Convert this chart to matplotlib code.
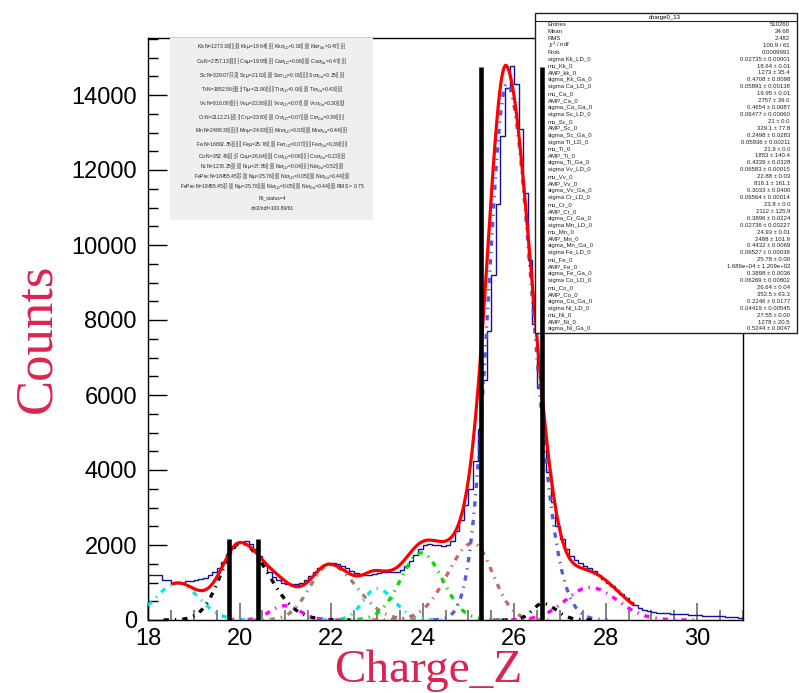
import matplotlib
matplotlib.use("Agg")
import matplotlib.pyplot as plt
import numpy as np
from matplotlib.patches import Rectangle
from matplotlib.ticker import MultipleLocator

W, H = 799, 693

# histogram charge0_13 (0.1 wide bins starting at 18.0)
bin_lo = 18.0
bin_width = 0.1
counts = [
    1200, 1200, 1200, 1070, 1070, 1000, 990, 990, 1040, 1050,
    1080, 1100, 1120, 1190, 1280, 1400, 1550, 1760, 1930, 2050,
    2080, 2120, 2040, 1900, 1700, 1470, 1290, 1150, 1060, 990,
    960, 950, 950, 990, 1060, 1170, 1290, 1400, 1470, 1510,
    1520, 1490, 1440, 1380, 1320, 1250, 1220, 1200, 1210, 1230,
    1260, 1270, 1280, 1290, 1290, 1340, 1440, 1580, 1740, 1900,
    2010, 2030, 2010, 2000, 1980, 2000, 2120, 2380, 2680, 3060,
    3500, 4250, 5100, 6400, 7700, 9200, 11100, 12900, 14200, 14780,
    14300, 13100, 11400, 9600, 7900, 6200, 4900, 3950, 3150, 2500,
    2150, 1900, 1720, 1600, 1520, 1450, 1380, 1300, 1200, 1100,
    1000, 900, 800, 690, 590, 490, 400, 330, 280, 240,
    215, 200, 190, 180, 170, 165, 160, 150, 140, 135,
    130, 120, 115, 110, 100, 95, 90, 85, 75, 65,
]

# fit components (peak position, height, left/right widths as seen on the plot)
comp_names = ["Kk", "Ca", "Sc", "Ti", "Vv", "Cr", "Mn", "Fe", "Co", "Ni"]
comp_mu = [18.64, 20.02, 20.97, 21.97, 23.0, 23.97, 25.1, 25.84, 26.62, 27.65]
comp_h = [980, 2050, 380, 1470, 840, 1790, 2050, 14300, 440, 870]
comp_sl = [0.47, 0.42, 0.30, 0.43, 0.30, 0.45, 0.55, 0.40, 0.22, 0.53]
comp_sr = [0.47, 0.60, 0.35, 0.58, 0.38, 0.46, 0.43, 0.55, 0.30, 0.60]
comp_colors = ["#00e8f0", "#000000", "#ff00ff", "#a08070", "#00e8f0",
               "#00e000", "#cd6464", "#5858e0", "#000000", "#ff00ff"]
# extra tail included in the total fit only
tail_mu, tail_h, tail_sl, tail_sr = 27.5, 380, 0.5, 0.85
fit_range = (18.55, 28.6)

# cut lines
cut_x = [19.76, 20.40, 25.27, 26.60]
cut_top = [2160, 2160, 14760, 14760]

stats_rows = [
    ("Entries", "510260"), ("Mean", "24.68"), ("RMS", "2.482"),
    (r"$\chi^2$ / ndf", "100.9 / 61"), ("Prob", "0.0009991"),
    ("sigma Kk_LD_0", "0.02735 ± 0.00001"), ("mu_Kk_0", "18.64 ± 0.01"),
    ("AMP_kk_0", "1273 ± 35.4"), ("sigma_Kk_Ga_0", "0.4708 ± 0.0098"),
    ("sigma Ca_LD_0", "0.05891 ± 0.00138"), ("mu_Ca_0", "19.95 ± 0.01"),
    ("AMP_Ca_0", "2757 ± 39.0"), ("sigma_Ca_Ga_0", "0.4654 ± 0.0087"),
    ("sigma Sc_LD_0", "0.06477 ± 0.00060"), ("mu_Sc_0", "21 ± 0.0"),
    ("AMP_Sc_0", "329.1 ± 77.8"), ("sigma_Sc_Ga_0", "0.2498 ± 0.0283"),
    ("sigma Ti_LD_0", "0.05936 ± 0.00211"), ("mu_Ti_0", "21.9 ± 0.0"),
    ("AMP_Ti_0", "1853 ± 140.4"), ("sigma_Ti_Ga_0", "0.4339 ± 0.0328"),
    ("sigma Vv_LD_0", "0.06583 ± 0.00015"), ("mu_Vv_0", "22.88 ± 0.03"),
    ("AMP_Vv_0", "816.1 ± 161.1"), ("sigma_Vv_Ga_0", "0.3033 ± 0.0400"),
    ("sigma Cr_LD_0", "0.06564 ± 0.00014"), ("mu_Cr_0", "23.8 ± 0.0"),
    ("AMP_Cr_0", "2112 ± 125.9"), ("sigma_Cr_Ga_0", "0.3896 ± 0.0224"),
    ("sigma Mn_LD_0", "0.02736 ± 0.00227"), ("mu_Mn_0", "24.93 ± 0.01"),
    ("AMP_Mn_0", "2488 ± 101.9"), ("sigma_Mn_Ga_0", "0.4432 ± 0.0069"),
    ("sigma Fe_LD_0", "0.06527 ± 0.00038"), ("mu_Fe_0", "25.78 ± 0.00"),
    ("AMP_Fe_0", "1.686e+04 ± 1.209e+02"), ("sigma_Fe_Ga_0", "0.3898 ± 0.0036"),
    ("sigma Co_LD_0", "0.06269 ± 0.00802"), ("mu_Co_0", "26.64 ± 0.04"),
    ("AMP_Co_0", "352.5 ± 63.3"), ("sigma_Co_Ga_0", "0.2246 ± 0.0177"),
    ("sigma Ni_LD_0", "0.04419 ± 0.00545"), ("mu_Ni_0", "27.55 ± 0.00"),
    ("AMP_Ni_0", "1278 ± 20.5"), ("sigma_Ni_Ga_0", "0.5244 ± 0.0047"),
]

fit_lines = [
    r"Kk:N=1273.38$^{35.39}_{35.39}$ Kk$\mu$=18.64$^{0.01}_{0.01}$ Kk$\sigma_{LD}$=0.03$^{0.00}_{0.00}$ Kk$\sigma_{Ga}$=0.47$^{0.01}_{0.01}$",
    r"Ca:N=2757.13$^{39.01}_{39.01}$ Ca$\mu$=19.95$^{0.01}_{0.01}$ Ca$\sigma_{LD}$=0.06$^{0.00}_{0.00}$ Ca$\sigma_{Ga}$=0.47$^{0.01}_{0.01}$",
    r"Sc:N=329.07$^{77.78}_{77.78}$ Sc$\mu$=21.00$^{0.00}_{0.00}$ Sc$\sigma_{LD}$=0.06$^{0.00}_{0.00}$ Sc$\sigma_{Ga}$=0.25$^{0.03}_{0.03}$",
    r"Ti:N=1852.56$^{140.4}_{140.4}$ Ti$\mu$=21.90$^{0.00}_{0.00}$ Ti$\sigma_{LD}$=0.06$^{0.00}_{0.00}$ Ti$\sigma_{Ga}$=0.43$^{0.03}_{0.03}$",
    r"Vv:N=816.08$^{161.1}_{161.1}$ Vv$\mu$=22.88$^{0.03}_{0.03}$ Vv$\sigma_{LD}$=0.07$^{0.00}_{0.00}$ Vv$\sigma_{Ga}$=0.30$^{0.04}_{0.04}$",
    r"Cr:N=2112.21$^{125.9}_{125.9}$ Cr$\mu$=23.80$^{0.00}_{0.00}$ Cr$\sigma_{LD}$=0.07$^{0.00}_{0.00}$ Cr$\sigma_{Ga}$=0.39$^{0.02}_{0.02}$",
    r"Mn:N=2488.38$^{101.9}_{101.9}$ Mn$\mu$=24.93$^{0.01}_{0.01}$ Mn$\sigma_{LD}$=0.03$^{0.00}_{0.00}$ Mn$\sigma_{Ga}$=0.44$^{0.01}_{0.01}$",
    r"Fe:N=16862.35$^{120.9}_{120.9}$ Fe$\mu$=25.78$^{0.00}_{0.00}$ Fe$\sigma_{LD}$=0.07$^{0.00}_{0.00}$ Fe$\sigma_{Ga}$=0.39$^{0.00}_{0.00}$",
    r"Co:N=352.46$^{63.27}_{63.27}$ Co$\mu$=26.64$^{0.04}_{0.04}$ Co$\sigma_{LD}$=0.06$^{0.01}_{0.01}$ Co$\sigma_{Ga}$=0.22$^{0.02}_{0.02}$",
    r"Ni:N=1278.25$^{20.50}_{20.50}$ Ni$\mu$=27.55$^{0.00}_{0.00}$ Ni$\sigma_{LD}$=0.04$^{0.01}_{0.01}$ Ni$\sigma_{Ga}$=0.52$^{0.00}_{0.00}$",
    r"FePre:N=18455.45$^{97.56}_{97.56}$ Ni$\mu$=25.76$^{0.00}_{0.00}$ Ni$\sigma_{LD}$=0.05$^{0.00}_{0.00}$ Ni$\sigma_{Ga}$=0.44$^{0.00}_{0.00}$",
    r"FePre:N=18455.45$^{97.56}_{97.56}$ Ni$\mu$=25.76$^{0.00}_{0.00}$ Ni$\sigma_{LD}$=0.05$^{0.00}_{0.00}$ Ni$\sigma_{Ga}$=0.44$^{0.00}_{0.00}$ RMS = 0.75",
    "Fit_status=4",
    "chi2/ndf=100.89/61",
]
fit_line_y = [47, 62, 76, 90, 104, 118, 131, 145, 157, 167, 177, 187, 198, 208]


def fx(px):
    return px / W


def fy(py):
    return 1 - py / H


def asym_gauss(x, mu, h, sl, sr):
    s = np.where(x < mu, sl, sr)
    return h * np.exp(-0.5 * ((x - mu) / s) ** 2)


plt.rcParams["font.family"] = ["Liberation Sans", "DejaVu Sans"]
fig = plt.figure(figsize=(W / 100, H / 100), dpi=100)
ax = fig.add_axes([fx(148), fy(620), fx(743) - fx(148), fy(38) - fy(620)])

edges = bin_lo + bin_width * np.arange(len(counts) + 1)
ax.stairs(counts, edges, color="#10109c", linewidth=1.0, zorder=2)

# components
for mu, h, sl, sr, c in zip(comp_mu, comp_h, comp_sl, comp_sr, comp_colors):
    xs = np.linspace(max(18, mu - 4 * sl), min(31, mu + 4 * sr), 300)
    ax.plot(xs, asym_gauss(xs, mu, h, sl, sr), color=c, lw=2.4,
            ls=(0, (1.6, 1.8, 0.4, 1.8)), zorder=3)

# total fit
xf = np.linspace(fit_range[0], fit_range[1], 800)
total = np.zeros_like(xf)
for mu, h, sl, sr in zip(comp_mu, comp_h, comp_sl, comp_sr):
    total += asym_gauss(xf, mu, h, sl, sr)
total += asym_gauss(xf, tail_mu, tail_h, tail_sl, tail_sr)
ax.plot(xf, total, color="#ff0000", lw=2.3, zorder=4)

ax.set_xlim(18, 31)
ax.set_ylim(0, 15520)
ax.xaxis.set_major_locator(MultipleLocator(2))
ax.xaxis.set_minor_locator(MultipleLocator(0.5))
ax.yaxis.set_major_locator(MultipleLocator(2000))
ax.yaxis.set_minor_locator(MultipleLocator(500))
ax.tick_params(axis="x", which="major", direction="in", length=12, width=1.3,
               color="#777777", labelsize=17, pad=6)
ax.tick_params(axis="x", which="minor", direction="in", length=7, width=1.3,
               color="#777777")
ax.tick_params(axis="y", which="major", direction="in", length=14, width=1,
               labelsize=17, pad=8)
ax.tick_params(axis="y", which="minor", direction="in", length=7, width=1)
for sp in ax.spines.values():
    sp.set_linewidth(1.0)

serif = ["Liberation Serif", "DejaVu Serif"]
fig.text(fx(37), fy(338), "Counts", rotation=90, ha="center", va="center",
         family=serif, fontsize=38, color="#dc2450")
fig.text(fx(428), fy(671), "Charge_Z", ha="center", va="center",
         family=serif, fontsize=34, color="#dc2450")

# fit parameter box
ax.add_patch(Rectangle((fx(170), fy(220)), fx(373) - fx(170), fy(38) - fy(220),
                       transform=fig.transFigure, facecolor="#efefef",
                       edgecolor="none", clip_on=False, zorder=5))
for line, yy in zip(fit_lines, fit_line_y):
    ax.text(fx(272), fy(yy), line, transform=fig.transFigure, ha="center",
            va="center", fontsize=3.6, color="#222222", zorder=7, clip_on=False)

# stats box
bx0, bx1, by0, by1 = 535, 797, 13, 333
ax.add_patch(Rectangle((fx(bx0), fy(by1)), fx(bx1) - fx(bx0), fy(by0) - fy(by1),
                       transform=fig.transFigure, facecolor="white",
                       edgecolor="#222222", linewidth=1.0, clip_on=False, zorder=5))
ax.plot([fx(bx0), fx(bx1)], [fy(21), fy(21)], transform=fig.transFigure,
        color="#222222", lw=0.8, clip_on=False, zorder=6)
ax.text(fx(665), fy(17), "charge0_13", transform=fig.transFigure, ha="center",
        va="center", fontsize=4.3, zorder=7, clip_on=False)
row_y = np.linspace(24.5, 329, len(stats_rows))
for (lab, val), yy in zip(stats_rows, row_y):
    ax.text(fx(548), fy(yy), lab, transform=fig.transFigure, ha="left",
            va="center", fontsize=4.3, color="#222222", zorder=7, clip_on=False)
    ax.text(fx(790), fy(yy), val, transform=fig.transFigure, ha="right",
            va="center", fontsize=4.3, color="#222222", zorder=7, clip_on=False)

# cut lines on top
for xc, yt in zip(cut_x, cut_top):
    ax.plot([xc, xc], [0, yt], color="black", lw=3.3, zorder=8, clip_on=False,
            solid_capstyle="butt")

fig.savefig("out.png", dpi=100)
